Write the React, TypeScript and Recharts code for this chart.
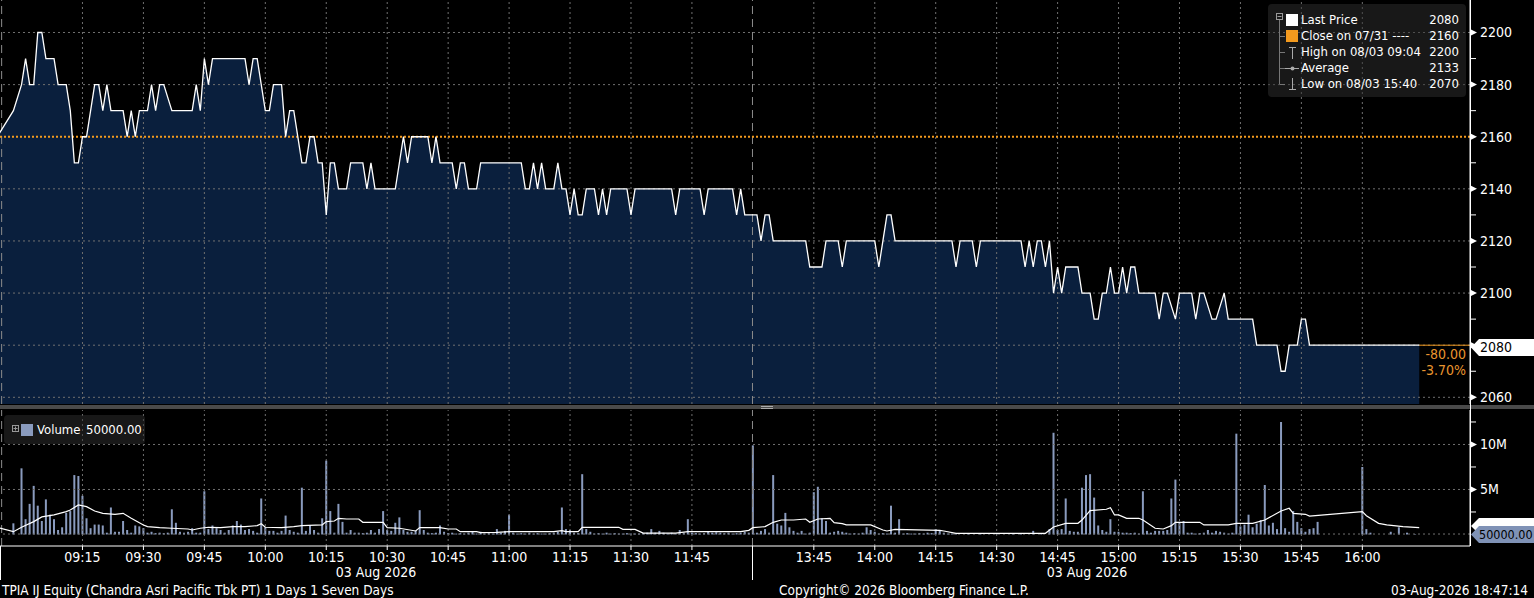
import React from 'react';
import { ComposedChart, Area, Line, Bar, XAxis, YAxis, ReferenceLine } from 'recharts';

const FONT = '"DejaVu Sans Condensed", "Liberation Sans Narrow", "Arial Narrow", "DejaVu Sans", sans-serif';

// x axis is "session minutes": 0 = 09:00, 180 = 13:30 (lunch break removed)
const T_MIN = -5.3;
const T_MAX = 356.5;
const START_T = -4.9;
const BREAK_T = 179.9;

const timeTicks = [15, 30, 45, 60, 75, 90, 105, 120, 135, 150, 165, 195, 210, 225, 240, 255, 270, 285, 300, 315, 330];
const timeLabels = ['09:15', '09:30', '09:45', '10:00', '10:15', '10:30', '10:45', '11:00', '11:15', '11:30', '11:45',
  '13:45', '14:00', '14:15', '14:30', '14:45', '15:00', '15:15', '15:30', '15:45', '16:00'];

const priceTicks = [2060, 2070, 2080, 2090, 2100, 2110, 2120, 2130, 2140, 2150, 2160, 2170, 2180, 2190, 2200];
const volumeTicks = [2.5, 5, 7.5, 10, 12.5];

const PREV_CLOSE = 2160;
const LAST = 2080;

// [minute, price]
const lastPrice: [number, number][] = [
  [-6, 2160], [-2, 2170], [0, 2180], [1, 2190], [2, 2180], [3, 2180], [4, 2200], [5, 2200], [6, 2190], [8, 2190],
  [9, 2180], [11, 2180], [12, 2170], [13, 2150], [14, 2150], [15, 2160], [16, 2160], [18, 2180], [19, 2180], [20, 2170],
  [21, 2180], [22, 2170], [25, 2170], [26, 2160], [27, 2170], [28, 2160], [29, 2170], [31, 2170], [32, 2180], [33, 2170],
  [34, 2180], [35, 2180], [37, 2170], [42, 2170], [43, 2180], [44, 2170], [45, 2190], [46, 2180], [47, 2190], [55, 2190],
  [56, 2180], [57, 2190], [58, 2190], [60, 2170], [61, 2170], [62, 2180], [64, 2180], [65, 2160], [66, 2170], [67, 2170],
  [69, 2150], [70, 2150], [71, 2160], [72, 2160], [73, 2150], [74, 2150], [75, 2130], [76, 2150], [77, 2150], [78, 2140],
  [80, 2140], [81, 2150], [84, 2150], [85, 2140], [86, 2150], [87, 2140], [92, 2140], [94, 2160], [95, 2150], [96, 2160],
  [100, 2160], [101, 2150], [102, 2160], [103, 2150], [106, 2150], [107, 2140], [108, 2150], [109, 2150], [110, 2140], [112, 2140],
  [113, 2150], [123, 2150], [124, 2140], [125, 2140], [126, 2150], [127, 2140], [128, 2150], [129, 2140], [131, 2140], [132, 2150],
  [133, 2140], [134, 2140], [135, 2130], [136, 2140], [137, 2130], [138, 2130], [139, 2140], [141, 2140], [142, 2130], [143, 2140],
  [144, 2130], [145, 2140], [149, 2140], [150, 2130], [151, 2140], [160, 2140], [161, 2130], [162, 2140], [167, 2140], [168, 2130],
  [169, 2140], [175, 2140], [176, 2130], [177, 2140], [178, 2130], [181, 2130], [182, 2120], [183, 2130], [184, 2130], [185, 2120],
  [193, 2120], [194, 2110], [197, 2110], [198, 2120], [201, 2120], [202, 2110], [203, 2120], [210, 2120], [211, 2110], [212, 2120],
  [213, 2130], [214, 2130], [215, 2120], [229, 2120], [230, 2110], [231, 2120], [234, 2120], [235, 2110], [236, 2120], [246, 2120],
  [247, 2110], [248, 2120], [249, 2110], [250, 2120], [251, 2120], [252, 2110], [253, 2120], [254, 2100], [255, 2110], [256, 2100],
  [257, 2110], [260, 2110], [261, 2100], [263, 2100], [264, 2090], [265, 2090], [266, 2100], [267, 2100], [268, 2110], [269, 2100],
  [270, 2100], [271, 2110], [272, 2100], [273, 2110], [274, 2110], [275, 2100], [279, 2100], [280, 2090], [281, 2100], [282, 2100],
  [284, 2090], [285, 2100], [288, 2100], [289, 2090], [290, 2100], [291, 2100], [293, 2090], [294, 2090], [296, 2100], [297, 2090],
  [303, 2090], [304, 2080], [309, 2080], [310, 2070], [311, 2070], [312, 2080], [314, 2080], [315, 2090], [316, 2090], [317, 2080],
  [344, 2080],
];

// [minute, volume in millions]
const volume: [number, number][] = [
  [-2, 1.24], [0, 7.35], [1, 1.7], [2, 3.4], [3, 5.4], [4, 3.2], [5, 1.5], [6, 3.9], [7, 2.2], [8, 1.7],
  [9, 0.5], [10, 0.8], [11, 2.4], [12, 2.6], [13, 6.6], [14, 6.5], [15, 4.3], [16, 1.8], [17, 0.7], [18, 1.1],
  [19, 1.1], [20, 1.0], [21, 0.2], [22, 3.0], [23, 0.3], [24, 0.3], [25, 1.5], [26, 0.5], [27, 0.2], [28, 1.0],
  [29, 0.9], [30, 0.7], [31, 0.2], [32, 0.3], [33, 0.15], [34, 0.2], [35, 0.15], [36, 0.2], [37, 2.8], [38, 1.3],
  [39, 0.3], [40, 0.2], [41, 0.3], [42, 0.7], [43, 0.2], [44, 0.2], [45, 4.8], [46, 0.6], [47, 1.0], [48, 0.7],
  [49, 0.5], [50, 0.2], [51, 0.5], [52, 1.0], [53, 1.5], [54, 1.1], [55, 0.5], [56, 0.6], [57, 0.4], [58, 0.2],
  [59, 4.0], [60, 0.8], [61, 0.4], [62, 0.4], [63, 0.2], [64, 0.4], [65, 2.1], [66, 0.5], [67, 0.3], [68, 0.2],
  [69, 5.2], [70, 0.4], [71, 1.0], [72, 0.5], [73, 0.2], [74, 1.8], [75, 8.2], [76, 2.6], [77, 0.2], [78, 3.4],
  [79, 1.4], [80, 0.2], [81, 0.5], [82, 0.2], [83, 0.2], [84, 0.15], [85, 0.2], [86, 0.5], [87, 0.2], [88, 0.6],
  [89, 2.6], [90, 0.5], [91, 0.4], [92, 1.3], [93, 1.9], [94, 0.5], [95, 0.3], [96, 0.3], [97, 0.4], [98, 2.7],
  [99, 0.5], [100, 0.2], [101, 0.15], [102, 0.2], [103, 1.0], [104, 0.3], [105, 0.15], [106, 0.2], [107, 0.1], [108, 0.15],
  [109, 0.1], [110, 0.2], [111, 0.3], [112, 0.1], [113, 0.3], [114, 0.1], [115, 0.15], [116, 0.1], [117, 0.6], [118, 0.2],
  [119, 0.4], [120, 2.2], [121, 0.2], [122, 0.1], [123, 0.15], [124, 0.1], [125, 0.2], [126, 0.1], [127, 0.15], [128, 0.1],
  [129, 0.1], [130, 0.15], [131, 0.2], [132, 0.3], [133, 3.0], [134, 0.6], [135, 0.5], [136, 0.2], [137, 0.15], [138, 6.7],
  [139, 0.6], [140, 0.3], [141, 0.1], [142, 0.15], [143, 0.1], [144, 0.2], [145, 0.1], [146, 0.15], [147, 0.1], [148, 0.1],
  [149, 0.15], [150, 0.1], [151, 0.1], [152, 0.1], [153, 0.15], [154, 0.2], [155, 0.6], [156, 0.2], [157, 0.4], [158, 0.2],
  [159, 0.1], [160, 0.2], [161, 0.1], [162, 0.5], [163, 0.2], [164, 1.7], [165, 0.2], [166, 0.15], [167, 0.1], [168, 0.15],
  [169, 0.3], [170, 0.2], [171, 0.25], [172, 0.2], [173, 0.15], [174, 0.2], [175, 0.1], [176, 0.15], [177, 0.2], [178, 0.3],
  [179, 0.2],
  [180, 9.9], [181, 0.2], [182, 0.4], [183, 0.6], [184, 0.2], [185, 6.6], [186, 1.2], [187, 1.0], [188, 2.4], [189, 0.8],
  [190, 0.4], [191, 0.2], [192, 0.4], [193, 0.1], [194, 0.2], [195, 4.7], [196, 5.3], [197, 1.8], [198, 1.5], [199, 0.2],
  [200, 0.3], [201, 0.4], [202, 0.3], [203, 0.2], [204, 0.1], [205, 0.15], [206, 0.1], [207, 0.2], [208, 0.8], [209, 0.5],
  [210, 0.3], [211, 0.1], [212, 0.15], [213, 0.1], [214, 3.2], [215, 0.2], [216, 1.7], [217, 0.1], [218, 0.15], [219, 0.1],
  [220, 0.1], [221, 0.15], [222, 0.1], [223, 0.2], [224, 0.15], [225, 0.6], [226, 0.4], [227, 0.2], [228, 0.1], [229, 0.1],
  [230, 0.05], [233, 0.15], [236, 0.1], [240, 0.1], [244, 0.1], [246, 0.15], [249, 0.4], [251, 0.1], [253, 0.6], [254, 11.3],
  [255, 0.5], [256, 0.6], [257, 4.0], [258, 0.4], [259, 0.3], [260, 0.3], [261, 5.2], [262, 6.6], [263, 6.7], [264, 4.1],
  [265, 1.0], [266, 0.5], [267, 0.3], [268, 1.7], [269, 0.3], [270, 0.3], [271, 0.2], [272, 0.2], [273, 0.15], [274, 0.2],
  [275, 0.1], [276, 4.8], [277, 0.4], [278, 0.2], [279, 0.4], [280, 0.4], [281, 0.4], [282, 0.5], [283, 4.0], [284, 6.1],
  [285, 1.4], [286, 1.5], [287, 0.2], [288, 0.2], [289, 0.1], [290, 0.15], [291, 0.2], [292, 0.5], [293, 0.2], [294, 0.4],
  [295, 0.3], [296, 0.2], [297, 0.1], [298, 0.2], [299, 11.2], [300, 0.9], [301, 1.1], [302, 2.2], [303, 0.8], [304, 1.2],
  [305, 1.6], [306, 5.5], [307, 1.0], [308, 1.3], [309, 0.6], [310, 12.5], [311, 0.7], [312, 0.3], [313, 2.6], [314, 1.4],
  [315, 0.7], [316, 0.3], [317, 0.6], [318, 0.7], [319, 1.4], [330, 7.5], [331, 0.6], [332, 0.2], [337, 0.3], [339, 0.8],
  [341, 0.2], [343, 0.05],
];

// white volume average line, [minute, millions]
const volumeAvg: [number, number][] = [
  [-6, 0.8], [-2, 0.31], [0, 0.8], [3, 1.43], [5, 1.95], [8, 2.17], [11, 2.54], [12, 2.72], [14, 3.28], [16, 3.09],
  [18, 2.61], [20, 2.35], [23, 2.24], [25, 2.35], [27, 1.8], [30, 1.06], [31, 0.87], [34, 0.76], [37, 0.69], [41, 0.61],
  [42, 0.5], [44, 0.69], [46, 0.8], [49, 0.76], [52, 0.87], [55, 0.87], [58, 0.98], [59, 1.2], [60, 0.8], [64, 0.76],
  [67, 0.87], [69, 0.98], [74, 1.06], [75, 1.43], [77, 1.5], [78, 1.8], [80, 1.72], [83, 1.72], [84, 1.35], [89, 1.35],
  [90, 0.76], [93, 0.69], [97, 0.39], [98, 0.76], [103, 0.76], [105, 0.61], [107, 0.61], [108, 0.31], [112, 0.31], [113, 0.2],
  [117, 0.24], [120, 0.31], [131, 0.31], [133, 0.42], [134, 0.31], [137, 0.31], [138, 0.8], [147, 0.8], [148, 0.57], [151, 0.57],
  [153, 0.16], [161, 0.16], [164, 0.31], [177, 0.31], [179, 0.46], [180, 0.76], [183, 0.87], [185, 1.35], [187, 1.61], [190, 1.61],
  [193, 1.72], [194, 1.35], [196, 1.72], [199, 1.8], [200, 1.31], [202, 1.2], [203, 1.06], [209, 1.06], [212, 0.5], [213, 0.39],
  [215, 0.57], [226, 0.46], [227, 0.39], [230, 0.13], [252, 0.13], [254, 0.83], [257, 1.24], [260, 1.24], [261, 1.6], [263, 2.65],
  [267, 2.8], [268, 2.98], [269, 2.17], [270, 2.17], [272, 1.8], [275, 1.8], [276, 1.61], [279, 0.69], [281, 0.61], [283, 0.98],
  [284, 1.35], [290, 1.35], [291, 1.06], [297, 1.06], [299, 1.24], [303, 1.24], [306, 1.61], [310, 2.61], [312, 2.91], [313, 2.35],
  [316, 2.24], [317, 2.05], [330, 2.54], [331, 2.09], [334, 1.24], [336, 1.06], [340, 0.87], [344, 0.76],
];

const priceData = lastPrice.map(([t, p]) => ({ t, p }));
const volumeData = volume.map(([t, v]) => ({ t, v }));
const avgData = volumeAvg.map(([t, m]) => ({ t, m }));

const AX = 1470;
const GRID = '#707070';
const ORANGE = '#f39a1e';
const VOL_BLUE = '#8a9bbe';

const PriceTick = (props: any) => {
  const { y, payload } = props;
  const v = payload.value;
  if (v % 20 !== 0) return <line x1={AX} x2={AX + 6} y1={y} y2={y} stroke="#fff" />;
  return (
    <g>
      <path d={`M${AX} ${y - 3.5} L${AX + 7} ${y} L${AX} ${y + 3.5} Z`} fill="#fff" />
      <text x={AX + 10} y={y} dy="0.35em" fill="#fff" fontSize={14}>{v}</text>
    </g>
  );
};

const VolumeTick = (props: any) => {
  const { y, payload } = props;
  const v = payload.value;
  if (v % 5 !== 0) return <line x1={AX} x2={AX + 6} y1={y} y2={y} stroke="#fff" />;
  return (
    <g>
      <path d={`M${AX} ${y - 3.5} L${AX + 7} ${y} L${AX} ${y + 3.5} Z`} fill="#fff" />
      <text x={AX + 10} y={y} dy="0.35em" fill="#fff" fontSize={14}>{`${v}M`}</text>
    </g>
  );
};

const fmtTime = (v: number) => timeLabels[timeTicks.indexOf(v)];

const badge = 'polygon(0 50%, 8px 0, 100% 0, 100% 100%, 8px 100%)';

const legendRows = [
  ['Last Price', '2080'],
  ['Close on 07/31 ----', '2160'],
  ['High on 08/03 09:04', '2200'],
  ['Average', '2133'],
  ['Low on 08/03 15:40', '2070'],
];

export default function App() {
  return (
    <div style={{ position: 'absolute', left: 0, top: 0, width: 1534, height: 598, background: '#000', fontFamily: FONT, color: '#fff', overflow: 'hidden' }}>
      {/* price pane */}
      <div style={{ position: 'absolute', left: 0, top: 0 }}>
        <ComposedChart width={1534} height={404} data={priceData} margin={{ top: 0, right: 0, bottom: 0, left: 0 }}>
          <XAxis type="number" dataKey="t" domain={[T_MIN, T_MAX]} allowDataOverflow hide />
          <YAxis orientation="right" width={64} domain={[2057.43, 2212.47]} allowDataOverflow ticks={priceTicks} interval={0}
            tick={<PriceTick />} tickLine={false} axisLine={{ stroke: '#fff' }} />
          <Area type="linear" dataKey="p" stroke="none" fill="#0a1f3d" fillOpacity={1} isAnimationActive={false} dot={false} activeDot={false} />
          {timeTicks.map((t) => (
            <ReferenceLine key={`vx${t}`} x={t} stroke={GRID} strokeDasharray="2 3" />
          ))}
          {[2060, 2080, 2100, 2120, 2140, 2180, 2200].map((p) => (
            <ReferenceLine key={`hy${p}`} y={p} stroke={GRID} strokeDasharray="2 3" />
          ))}
          <ReferenceLine x={START_T} stroke="#8c8c8c" strokeDasharray="8 5" />
          <ReferenceLine x={BREAK_T} stroke="#8c8c8c" strokeDasharray="8 5" />
          <ReferenceLine y={PREV_CLOSE} stroke={ORANGE} strokeWidth={2} strokeDasharray="2 2" />
          <ReferenceLine segment={[{ x: 344, y: LAST }, { x: T_MAX, y: LAST }]} stroke={ORANGE} />
          <Line type="linear" dataKey="p" stroke="#fff" strokeWidth={1.3} dot={false} activeDot={false} isAnimationActive={false} />
        </ComposedChart>
      </div>

      {/* separator */}
      <div style={{ position: 'absolute', left: 0, top: 405, width: 1534, height: 4, background: '#4a4a4a' }} />
      <div style={{ position: 'absolute', left: 761, top: 406, width: 12, height: 1, background: '#aaa' }} />
      <div style={{ position: 'absolute', left: 761, top: 408, width: 12, height: 1, background: '#aaa' }} />
      <div style={{ position: 'absolute', left: AX, top: 0, width: 1, height: 546, background: '#fff' }} />

      {/* volume pane */}
      <div style={{ position: 'absolute', left: 0, top: 410 }}>
        <ComposedChart width={1534} height={188} data={volumeData} margin={{ top: 0, right: 0, bottom: 0, left: 0 }}>
          <XAxis type="number" dataKey="t" domain={[T_MIN, T_MAX]} allowDataOverflow ticks={timeTicks} interval={0}
            tickFormatter={fmtTime} height={52} tick={{ fill: '#fff', fontSize: 14 }} tickLine={{ stroke: '#fff' }} tickSize={4}
            axisLine={{ stroke: '#fff' }} />
          <YAxis orientation="right" width={64} domain={[-1.28, 13.83]} allowDataOverflow ticks={volumeTicks} interval={0}
            tick={<VolumeTick />} tickLine={false} axisLine={{ stroke: '#fff' }} />
          {timeTicks.map((t) => (
            <ReferenceLine key={`vv${t}`} x={t} stroke={GRID} strokeDasharray="2 3" />
          ))}
          {[5, 10].map((v) => (
            <ReferenceLine key={`hv${v}`} y={v} stroke={GRID} strokeDasharray="2 3" />
          ))}
          <ReferenceLine y={0.05} stroke={GRID} strokeDasharray="2 3" />
          <ReferenceLine x={START_T} stroke="#8c8c8c" strokeDasharray="8 5" />
          <ReferenceLine x={BREAK_T} stroke="#8c8c8c" strokeDasharray="8 5" />
          <Bar dataKey="v" fill={VOL_BLUE} barSize={2} isAnimationActive={false} />
          <Line data={avgData} type="linear" dataKey="m" stroke="#fff" strokeWidth={1.2} dot={false} activeDot={false} isAnimationActive={false} />
        </ComposedChart>
      </div>

      {/* price legend */}
      <div style={{ position: 'absolute', left: 1268, top: 4, width: 198, height: 93, background: 'rgba(48,48,48,0.5)', borderRadius: 4 }}>
        <svg width={198} height={93} style={{ position: 'absolute', left: 0, top: 0 }}>
          <rect x={8.5} y={9.5} width={6} height={6} fill="none" stroke="#999" />
          <line x1={9.5} x2={13.5} y1={12.5} y2={12.5} stroke="#999" />
          <line x1={11.5} x2={11.5} y1={16} y2={80} stroke="#777" />
          {[32, 48, 64, 80].map((y) => <line key={y} x1={11.5} x2={17} y1={y + 0.5} y2={y + 0.5} stroke="#777" />)}
          <rect x={18} y={10} width={12} height={12} fill="#fff" />
          <rect x={18} y={26} width={12} height={12} fill={ORANGE} />
          <line x1={24.5} x2={24.5} y1={43} y2={55} stroke="#aaa" />
          <line x1={21} x2={28} y1={43.5} y2={43.5} stroke="#aaa" />
          <line x1={17} x2={31} y1={64.5} y2={64.5} stroke="#aaa" />
          <circle cx={24.5} cy={64.5} r={2} fill="#aaa" />
          <line x1={24.5} x2={24.5} y1={74} y2={86} stroke="#aaa" />
          <line x1={21} x2={28} y1={85.5} y2={85.5} stroke="#aaa" />
        </svg>
        {legendRows.map(([label, value], i) => (
          <div key={label} style={{ position: 'absolute', left: 33, top: 8 + i * 16, width: 158, height: 16, lineHeight: '16px', fontSize: 13, display: 'flex', justifyContent: 'space-between', whiteSpace: 'nowrap' }}>
            <span>{label}</span>
            <span>{value}</span>
          </div>
        ))}
      </div>

      {/* volume legend */}
      <div style={{ position: 'absolute', left: 4, top: 415, width: 141, height: 29, background: 'rgba(48,48,48,0.5)', borderRadius: 4 }}>
        <svg width={141} height={29} style={{ position: 'absolute', left: 0, top: 0 }}>
          <rect x={8.5} y={10.5} width={6} height={6} fill="none" stroke="#999" />
          <line x1={9.5} x2={13.5} y1={13.5} y2={13.5} stroke="#999" />
          <line x1={11.5} x2={11.5} y1={11.5} y2={15.5} stroke="#999" />
          <rect x={17} y={9} width={12} height={12} fill={VOL_BLUE} />
        </svg>
        <div style={{ position: 'absolute', left: 33, top: 7, lineHeight: '16px', fontSize: 13, whiteSpace: 'nowrap' }}>Volume</div>
        <div style={{ position: 'absolute', left: 82, top: 7, lineHeight: '16px', fontSize: 13, whiteSpace: 'nowrap' }}>50000.00</div>
      </div>

      {/* change text and last value badges */}
      <div style={{ position: 'absolute', right: 1534 - 1466, top: 346, lineHeight: '16px', fontSize: 14, color: '#e8952f', textAlign: 'right' }}>
        <div>-80.00</div>
        <div>-3.70%</div>
      </div>
      <div style={{ position: 'absolute', left: 1471, top: 339, width: 63, height: 17, background: '#fff', clipPath: badge, color: '#000', fontSize: 14, lineHeight: '17px', paddingLeft: 9, boxSizing: 'border-box' }}>2080</div>
      <div style={{ position: 'absolute', left: 1471, top: 518, width: 63, height: 16, background: '#fff', clipPath: badge }} />
      <div style={{ position: 'absolute', left: 1471, top: 526, width: 63, height: 17, background: '#7f92b6', clipPath: badge }} />
      <div style={{ position: 'absolute', left: 1479, top: 526, fontSize: 12.5, lineHeight: '17px', color: '#000', whiteSpace: 'nowrap' }}>50000.00</div>

      {/* date row and session separators */}
      <div style={{ position: 'absolute', left: 0, top: 546, width: 1, height: 34, background: '#fff' }} />
      <div style={{ position: 'absolute', left: 752, top: 546, width: 1, height: 34, background: '#fff' }} />
      <div style={{ position: 'absolute', left: 376, top: 564, transform: 'translateX(-50%)', fontSize: 14, lineHeight: '16px', whiteSpace: 'nowrap' }}>03 Aug 2026</div>
      <div style={{ position: 'absolute', left: 1087, top: 564, transform: 'translateX(-50%)', fontSize: 14, lineHeight: '16px', whiteSpace: 'nowrap' }}>03 Aug 2026</div>

      {/* footer */}
      <div style={{ position: 'absolute', left: 2, top: 582, fontSize: 13.5, lineHeight: '16px', whiteSpace: 'nowrap' }}>TPIA IJ Equity (Chandra Asri Pacific Tbk PT) 1 Days 1 Seven Days</div>
      <div style={{ position: 'absolute', left: 779, top: 582, fontSize: 13.5, lineHeight: '16px', whiteSpace: 'nowrap' }}>Copyright© 2026 Bloomberg Finance L.P.</div>
      <div style={{ position: 'absolute', right: 6, top: 582, fontSize: 13.5, lineHeight: '16px', whiteSpace: 'nowrap' }}>03-Aug-2026 18:47:14</div>
    </div>
  );
}
